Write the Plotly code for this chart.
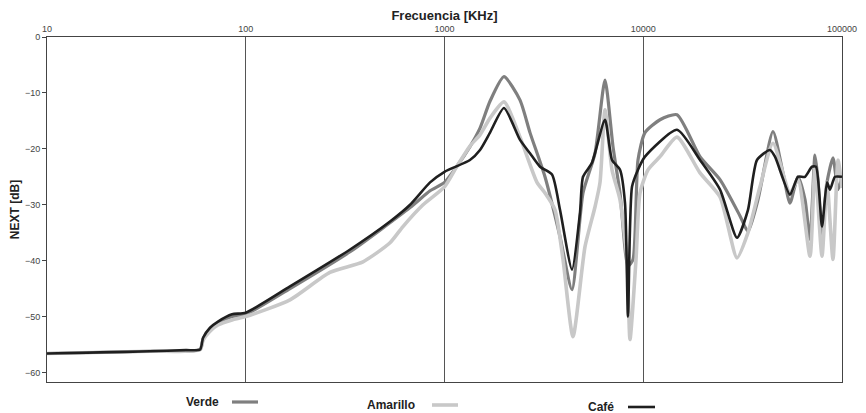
import plotly.graph_objects as go

# ---- data (frequency in kHz, NEXT in dB) ----
verde_f = [10, 33, 58.9, 61, 66.1, 72.5, 85.3, 100, 167, 335, 671, 846, 1000, 1160, 1343, 1509, 1694, 1992,
           2399, 2692, 3203, 3812, 4380, 4977, 5717, 6420, 7044, 7638, 8380, 8880, 9410, 10200, 12140,
           14785, 19300, 24340, 30680, 33650, 37780, 44950, 50480, 54750, 60050, 65150, 69020, 73130,
           75700, 79320, 84050, 90080, 95470, 100000]
verde_db = [-56.6, -56.2, -55.9, -54.0, -52.3, -51.2, -50.0, -49.6, -45.0, -38.4, -30.5, -27.5, -26.0, -23.0,
            -19.6, -16.3, -11.5, -7.1, -11.3, -17.1, -25.0, -35.7, -45.2, -27.9, -20.8, -7.7, -19.6, -27.9,
            -41.0, -39.8, -22.0, -17.1, -14.8, -13.9, -21.4, -25.5, -32.0, -34.8, -29.1, -16.9, -24.3, -29.7,
            -25.0, -29.1, -36.2, -21.1, -25.5, -36.2, -26.0, -21.6, -27.3, -25.0]

amarillo_f = [10, 33, 58.9, 61, 66.1, 72.5, 85.3, 100, 167, 265, 389, 532, 618, 780, 1000, 1160, 1343, 1509,
              1694, 1992, 2399, 2920, 3203, 3597, 3947, 4431, 5093, 5717, 6060, 6420, 6963, 7638, 8282, 8577,
              9194, 9630, 10565, 12140, 14785, 19300, 24340, 29630, 33650, 38670, 44950, 54750, 60050, 69020,
              73130, 79320, 84050, 90080, 95470, 100000]
amarillo_db = [-56.6, -56.2, -55.9, -54.2, -52.6, -51.5, -50.6, -50.0, -47.0, -42.1, -40.2, -36.8, -33.9, -30.0,
               -26.8, -23.0, -19.5, -17.5, -14.5, -11.6, -17.9, -26.0, -27.9, -30.9, -39.8, -53.6, -37.5, -30.4,
               -26.0, -13.0, -23.75, -29.1, -39.8, -54.1, -39.8, -27.9, -23.75, -21.4, -17.9, -24.3, -28.6,
               -39.5, -35.0, -26.8, -19.0, -27.9, -25.5, -39.2, -23.2, -39.2, -26.0, -39.8, -22.0, -27.0]

cafe_f = [10, 18.5, 33, 50, 58.9, 61, 66.1, 72.5, 85.3, 100, 167, 335, 532, 671, 846, 1000, 1343, 1509, 1694,
          1992, 2399, 2692, 3023, 3475, 3812, 4380, 4806, 4977, 5521, 6420, 6963, 7638, 8094, 8380, 8778, 9410,
          10200, 14785, 19300, 24340, 29630, 33650, 37350, 43410, 46010, 54750, 60050, 65150, 70630, 73980,
          79320, 84050, 87010, 92200, 100000]
cafe_db = [-56.6, -56.4, -56.2, -56.0, -55.9, -53.8, -52.0, -50.9, -49.6, -49.3, -44.6, -38.0, -33.0, -30.0,
           -26.0, -24.1, -22.0, -20.2, -17.1, -12.7, -18.4, -20.8, -23.2, -24.6, -30.9, -41.6, -31.4, -25.0,
           -22.5, -14.8, -22.0, -23.75, -29.7, -50.0, -26.8, -23.75, -21.4, -16.6, -22.0, -27.3, -35.9, -30.9,
           -22.0, -20.2, -21.4, -28.2, -25.0, -25.0, -23.2, -23.2, -33.9, -26.0, -27.3, -25.0, -25.0]

series_names = ["Verde", "Amarillo", "Café"]
x_tick_vals = [10, 100, 1000, 10000, 100000]
x_tick_text = ["10", "100", "1000", "10000", "100000"]
y_tick_vals = [0, -10, -20, -30, -40, -50, -60]

colors = ["#7f7f7f", "#c8c8c8", "#1f1f1f"]
widths = [3.2, 3.6, 2.6]

# page has an 8px body margin: the figure is drawn 8px lower/right than its own origin
OFF = 8
W, H = 866 - OFF, 413 - OFF
L, R, T, B = 47 - OFF, 842 - OFF, 37 - OFF, 382 - OFF

fig = go.Figure()
for name, xs, ys, c, w in zip(series_names, [verde_f, amarillo_f, cafe_f],
                              [verde_db, amarillo_db, cafe_db], colors, widths):
    fig.add_trace(go.Scatter(x=xs, y=ys, mode="lines", name=name,
                             line=dict(color=c, width=w, shape="spline", smoothing=0.6),
                             showlegend=False))

font_main = "Liberation Sans, Arial, sans-serif"

fig.update_layout(
    width=W, height=H,
    margin=dict(l=L, r=W - R, t=T, b=H - B, pad=0),
    paper_bgcolor="white", plot_bgcolor="white",
    font=dict(family=font_main, color="#222"),
    xaxis=dict(type="log", range=[1, 5], side="top", automargin=False,
               tickvals=x_tick_vals, ticktext=x_tick_text,
               tickfont=dict(size=9, color="#444"), ticks="",
               showgrid=True, gridcolor="#555", gridwidth=1,
               showline=True, linecolor="#444", linewidth=1, mirror=True,
               zeroline=False,
               title=dict(text="<b>Frecuencia [KHz]</b>", font=dict(size=13, color="#222"), standoff=6)),
    yaxis=dict(range=[-61.7, 0], tickvals=y_tick_vals, automargin=False,
               tickfont=dict(size=9, color="#444"), ticks="outside", ticklen=4, tickcolor="#444",
               showgrid=False, zeroline=False,
               showline=True, linecolor="#444", linewidth=1, mirror=True,
               title=dict(text="<b>NEXT [dB]</b>", font=dict(size=12, color="#222"), standoff=8)),
)

# manual legend (text left, line sample right), slightly staggered as in the reference
def px_x(p):
    return (p - OFF - L) / (R - L)

def px_y(p):
    return (B - (p - OFF)) / (B - T)

legend_items = [
    (series_names[0], 221, 402, 232, 258),
    (series_names[1], 417, 405, 432, 458),
    (series_names[2], 616, 407, 628, 655),
]
for (name, text_right, yc, l0, l1), c, w in zip(legend_items, colors, widths):
    fig.add_annotation(x=px_x(text_right), y=px_y(yc), xref="paper", yref="paper",
                       text="<b>" + name + "</b>", showarrow=False, xanchor="right", yanchor="middle",
                       font=dict(size=12, color="#222", family=font_main))
    fig.add_shape(type="line", xref="paper", yref="paper",
                  x0=px_x(l0), x1=px_x(l1), y0=px_y(yc), y1=px_y(yc),
                  line=dict(color=c, width=w))

fig.write_html("out.html")
